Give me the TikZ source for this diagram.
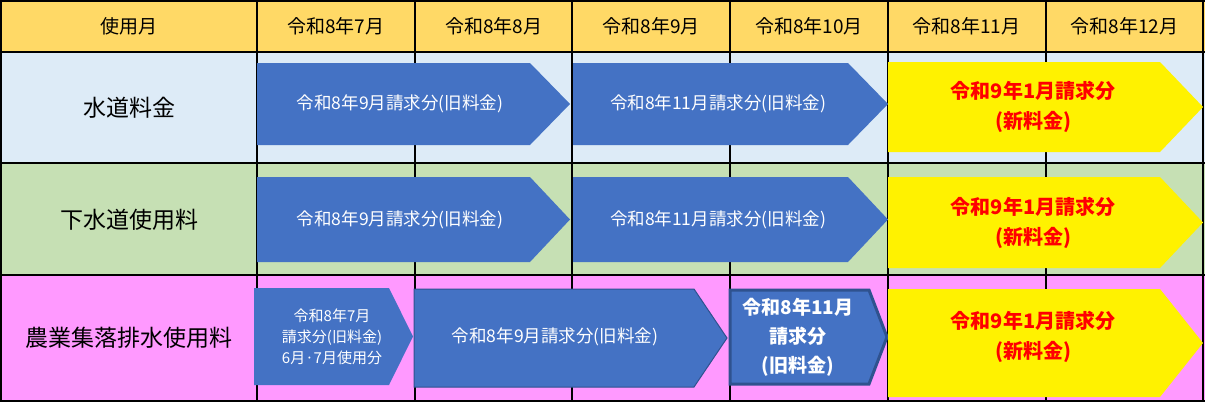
\documentclass[tikz,border=0pt]{standalone}
\usepackage{fontspec}
\setmainfont{Noto Sans CJK JP}
\usetikzlibrary{positioning}
\definecolor{hdr}{HTML}{FFD966}
\definecolor{rowA}{HTML}{DDEBF7}
\definecolor{rowB}{HTML}{C6E0B4}
\definecolor{rowC}{HTML}{FF99FF}
\definecolor{arr}{HTML}{4472C4}
\definecolor{arrline}{HTML}{2F528F}
\newcommand{\chev}[6][]{%
  \fill[#1] (#2,#3) -- (#5,#3) -- (#4,{(#3+#6)/2}) -- (#5,#6) -- (#2,#6) -- cycle;}
\tikzset{
  oldtxt/.style={text=white,font=\fontsize{17.5pt}{21pt}\selectfont,align=center},
  newtxt/.style={text=red,font=\bfseries\fontsize{20pt}{30pt}\selectfont,align=center},
  hdrtxt/.style={font=\fontsize{19pt}{22pt}\selectfont},
  rowtxt/.style={font=\fontsize{23pt}{26pt}\selectfont}
}
\begin{document}
\begin{tikzpicture}[x=1pt,y=-1pt]
  \useasboundingbox (0,0) rectangle (1205,402);
  %%%%% BACKGROUNDS
  \fill[hdr] (0,0) rectangle (1205,52);
  \fill[rowA] (0,52) rectangle (1205,163);
  \fill[rowB] (0,163) rectangle (1205,275);
  \fill[rowC] (0,275) rectangle (1205,401);
  %%%%% GRID
  \foreach \x in {1,257,415,572,730,888,1046,1203}
    \draw[line width=1.8pt] (\x,0) -- (\x,401);
  \foreach \y in {1,52,163,275,401}
    \draw[line width=1.8pt] (0,\y) -- (1205,\y);
  %%%%% HEADER
  \node[hdrtxt] (hLabel) at (129,26) {使用月};
  \foreach \m [count=\i] in {7,8,9,10,11,12}
    \node[hdrtxt] (h\i) at ({257+(\i-0.5)*157.7},26) {令和8年\m 月};
  \node[rowtxt] (rWater) at (129,108) {水道料金};
  \node[rowtxt] (rSewer) at (129,220) {下水道使用料};
  \node[rowtxt] (rFarm) at (129,338) {農業集落排水使用料};
  %%%%% ROW 1 AND ROW 2
  \foreach \ya/\yb/\yc/\yd [count=\r] in {63/145/62/152,177/262/177/268}{
    \chev[arr]{257}{\ya}{570}{530}{\yb}
    \chev[arr]{573}{\ya}{888}{848}{\yb}
    \chev[yellow]{888}{\yc}{1203}{1160}{\yd}
    \node[oldtxt] (old9-\r) at (400,{(\ya+\yb)/2}) {令和8年9月請求分(旧料金)};
    \node[oldtxt] (old11-\r) at (718,{(\ya+\yb)/2}) {令和8年11月請求分(旧料金)};
    \node[newtxt] (new-\r) at (1033,{(\yc+\yd)/2}) {令和9年1月請求分\\(新料金)};
  }
  %%%%% ROW 3
  \chev[arr]{254}{288}{413}{389}{385}
  \chev[arr,draw=arrline,line width=1pt]{414}{289}{727}{694}{387}
  \chev[arr,draw=arrline,line width=3pt]{730}{290}{887}{869}{384}
  \chev[yellow]{888}{289}{1203}{1160}{397}
  \node[oldtxt,font=\fontsize{15pt}{21pt}\selectfont] (farm7) at (332,337) {令和8年7月\\請求分(旧料金)\\6月·7月使用分};
  \node[oldtxt] (farm9) at (555,337) {令和8年9月請求分(旧料金)};
  \node[oldtxt,font=\bfseries\fontsize{19pt}{29pt}\selectfont] (farm11) at (798,337) {令和8年11月\\請求分\\(旧料金)};
  \node[newtxt] (new-3) at (1033,337) {令和9年1月請求分\\(新料金)};
\end{tikzpicture}
\end{document}
